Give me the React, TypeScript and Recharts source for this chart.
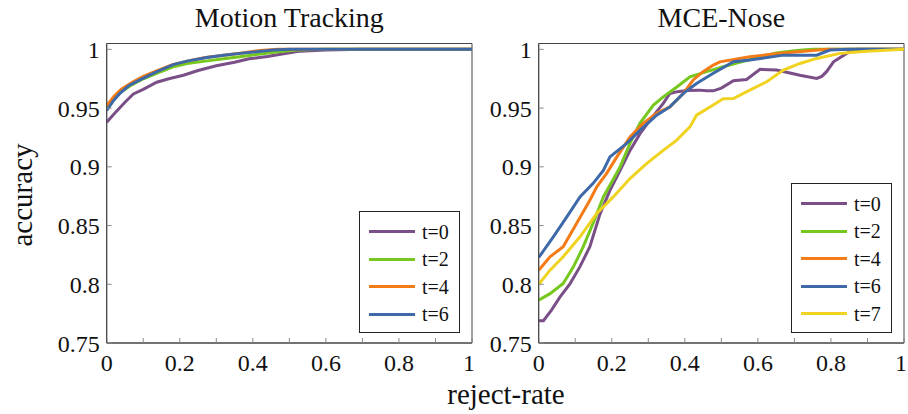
import { LineChart, Line, XAxis, YAxis, ReferenceArea } from 'recharts'

// x ticks every 0.1, labels only every 0.2
const xTicks = [0, 0.1, 0.2, 0.3, 0.4, 0.5, 0.6, 0.7, 0.8, 0.9, 1]
const xLabels = ['0', '', '0.2', '', '0.4', '', '0.6', '', '0.8', '', '1']
const yTicks = [0.75, 0.8, 0.85, 0.9, 0.95, 1]
const yLabels = ['0.75', '0.8', '0.85', '0.9', '0.95', '1']

// Motion Tracking
const mtT0 = [[0, 0.938], [0.02, 0.945], [0.05, 0.955], [0.073, 0.962], [0.1, 0.966], [0.137, 0.972], [0.17, 0.975], [0.21, 0.978], [0.25, 0.982], [0.3, 0.986], [0.35, 0.989], [0.39, 0.992], [0.44, 0.994], [0.48, 0.996], [0.53, 0.9985], [0.6, 0.9995], [0.7, 1], [1, 1]]
const mtT2 = [[0, 0.95], [0.02, 0.958], [0.04, 0.964], [0.07, 0.97], [0.1, 0.975], [0.14, 0.98], [0.18, 0.985], [0.22, 0.988], [0.27, 0.99], [0.32, 0.992], [0.37, 0.994], [0.42, 0.996], [0.47, 0.998], [0.52, 0.9995], [0.6, 1], [1, 1]]
const mtT4 = [[0, 0.952], [0.02, 0.96], [0.04, 0.966], [0.07, 0.972], [0.1, 0.977], [0.14, 0.982], [0.18, 0.987], [0.22, 0.99], [0.27, 0.993], [0.32, 0.995], [0.37, 0.997], [0.42, 0.999], [0.47, 1], [1, 1]]
const mtT6 = [[0, 0.948], [0.02, 0.957], [0.036, 0.9625], [0.06, 0.969], [0.091, 0.974], [0.13, 0.98], [0.182, 0.987], [0.22, 0.99], [0.274, 0.993], [0.32, 0.995], [0.365, 0.9966], [0.41, 0.998], [0.456, 0.9994], [0.5, 1], [1, 1]]

// MCE-Nose
const mnT0 = [[0, 0.769], [0.013, 0.769], [0.035, 0.778], [0.058, 0.789], [0.085, 0.8], [0.113, 0.815], [0.14, 0.832], [0.168, 0.86], [0.195, 0.88], [0.223, 0.897], [0.25, 0.914], [0.277, 0.928], [0.305, 0.94], [0.341, 0.954], [0.359, 0.9625], [0.38, 0.964], [0.405, 0.965], [0.44, 0.9653], [0.46, 0.9647], [0.478, 0.9647], [0.5, 0.967], [0.533, 0.9733], [0.569, 0.9744], [0.606, 0.983], [0.651, 0.9824], [0.715, 0.978], [0.761, 0.9753], [0.775, 0.977], [0.788, 0.981], [0.807, 0.9894], [0.843, 0.9966], [0.87, 1], [1, 1]]
const mnT2 = [[0, 0.7865], [0.031, 0.792], [0.067, 0.8007], [0.095, 0.8148], [0.122, 0.832], [0.149, 0.852], [0.177, 0.8744], [0.2, 0.887], [0.223, 0.9], [0.25, 0.92], [0.277, 0.937], [0.314, 0.9526], [0.341, 0.9596], [0.378, 0.968], [0.414, 0.9767], [0.46, 0.981], [0.505, 0.9852], [0.55, 0.989], [0.6, 0.993], [0.65, 0.997], [0.706, 0.999], [0.75, 1], [1, 1]]
const mnT4 = [[0, 0.812], [0.031, 0.8234], [0.067, 0.832], [0.104, 0.852], [0.14, 0.8716], [0.159, 0.883], [0.186, 0.8944], [0.214, 0.9085], [0.25, 0.9255], [0.286, 0.937], [0.323, 0.9455], [0.359, 0.951], [0.396, 0.9625], [0.423, 0.974], [0.45, 0.981], [0.478, 0.9866], [0.496, 0.9894], [0.578, 0.9937], [0.67, 0.997], [0.79, 1], [1, 1]]
const mnT6 = [[0, 0.8228], [0.04, 0.8404], [0.077, 0.8574], [0.113, 0.8744], [0.149, 0.8859], [0.177, 0.897], [0.195, 0.9085], [0.241, 0.92], [0.277, 0.931], [0.323, 0.944], [0.359, 0.951], [0.396, 0.9625], [0.432, 0.971], [0.478, 0.9796], [0.533, 0.9894], [0.578, 0.991], [0.67, 0.9951], [0.761, 0.9951], [0.797, 0.9994], [0.85, 1], [1, 1]]
const mnT7 = [[0, 0.8], [0.031, 0.812], [0.067, 0.8234], [0.113, 0.8404], [0.159, 0.8603], [0.204, 0.8744], [0.25, 0.89], [0.296, 0.903], [0.341, 0.914], [0.378, 0.9227], [0.414, 0.934], [0.432, 0.944], [0.469, 0.951], [0.505, 0.958], [0.533, 0.9582], [0.578, 0.9653], [0.624, 0.9724], [0.67, 0.9824], [0.715, 0.988], [0.761, 0.9923], [0.825, 0.9966], [0.898, 0.9985], [1, 1]]

const COLORS: Record<string, string> = {
  't=0': '#7a4f88',
  't=2': '#77c81e',
  't=4': '#f47b16',
  't=6': '#3e69a8',
  't=7': '#f0d320',
}

const FONT = '"Liberation Serif", serif'
const toPts = (arr: number[][]) => arr.map(([x, y]) => ({ x, y }))

type Series = { name: string; data: number[][] }

// bottom tick label; the last one is nudged so it stays inside the page
const XTick = (props: any) => {
  const { x, y, payload, index } = props
  const label = xLabels[xTicks.indexOf(payload.value)] ?? ''
  const dx = index === xTicks.length - 1 ? -3 : 0
  return (
    <text x={x + dx} y={y} dy="0.71em" textAnchor="middle" fill="#111" fontSize={24} style={{ fontFamily: FONT }}>
      {label}
    </text>
  )
}

const YTick = (props: any) => {
  const { x, y, payload } = props
  return (
    <text x={x} y={y} dy="0.355em" textAnchor="end" fill="#111" fontSize={24} style={{ fontFamily: FONT }}>
      {yLabels[yTicks.indexOf(payload.value)] ?? ''}
    </text>
  )
}

const Panel = ({ series, width, marginLeft, yAxisWidth, marginRight }: { series: Series[]; width: number; marginLeft: number; yAxisWidth: number; marginRight: number }) => (
  <LineChart width={width} height={414} margin={{ top: 43.5, right: marginRight, bottom: 31, left: marginLeft }}>
    <XAxis
      type="number"
      dataKey="x"
      domain={[0, 1]}
      ticks={xTicks}
      interval={0}
      allowDataOverflow
      height={40}
      tickSize={-5}
      tickMargin={16}
      tickLine={{ stroke: '#888' }}
      axisLine={{ stroke: '#444' }}
      tick={XTick}
    />
    <YAxis
      yAxisId="l"
      type="number"
      domain={[0.75, 1.005]}
      ticks={yTicks}
      interval={0}
      allowDataOverflow
      width={yAxisWidth}
      tickSize={-5}
      tickMargin={12}
      tickLine={{ stroke: '#888' }}
      axisLine={{ stroke: '#444' }}
      tick={YTick}
    />
    <YAxis
      yAxisId="r"
      orientation="right"
      type="number"
      domain={[0.75, 1.005]}
      ticks={yTicks}
      interval={0}
      width={0}
      tickSize={-5}
      tickLine={{ stroke: '#888' }}
      axisLine={{ stroke: '#444' }}
      tick={() => <g />}
    />
    <ReferenceArea yAxisId="l" x1={0} x2={1} y1={0.75} y2={1.005} fill="none" stroke="#444" strokeWidth={1} />
    {series.map((s) => (
      <Line
        key={s.name}
        yAxisId="l"
        data={toPts(s.data)}
        dataKey="y"
        name={s.name}
        type="linear"
        stroke={COLORS[s.name]}
        strokeWidth={3}
        dot={false}
        activeDot={false}
        isAnimationActive={false}
      />
    ))}
  </LineChart>
)

const LegendBox = ({ names, left, top }: { names: string[]; left: number; top: number }) => (
  <div
    style={{
      position: 'absolute',
      left,
      top,
      width: 101,
      height: names.length * 27.5 + 12,
      border: '1px solid #222',
      background: '#fff',
      boxSizing: 'border-box',
    }}
  >
    {names.map((n, i) => (
      <div key={n} style={{ position: 'absolute', left: 9, top: 6 + i * 27.5, height: 27.5, display: 'flex', alignItems: 'center' }}>
        <div style={{ width: 46, height: 3, background: COLORS[n] }} />
        <span style={{ marginLeft: 7, fontSize: 20, fontFamily: FONT, color: '#111', lineHeight: '20px' }}>{n}</span>
      </div>
    ))}
  </div>
)

export default function App() {
  const motion: Series[] = [
    { name: 't=0', data: mtT0 },
    { name: 't=2', data: mtT2 },
    { name: 't=4', data: mtT4 },
    { name: 't=6', data: mtT6 },
  ]
  const nose: Series[] = [
    { name: 't=0', data: mnT0 },
    { name: 't=2', data: mnT2 },
    { name: 't=4', data: mnT4 },
    { name: 't=6', data: mnT6 },
    { name: 't=7', data: mnT7 },
  ]
  return (
    <div style={{ position: 'absolute', left: 0, top: 0, width: 908, height: 414, background: '#fff', fontFamily: FONT, overflow: 'hidden' }}>
      <div style={{ position: 'absolute', left: 0, top: 0 }}>
        <Panel series={motion} width={480} marginLeft={46.7} yAxisWidth={60} marginRight={8} />
      </div>
      <div style={{ position: 'absolute', left: 480, top: 0 }}>
        <Panel series={nose} width={428} marginLeft={18.7} yAxisWidth={40} marginRight={4} />
      </div>
      <div style={{ position: 'absolute', left: 106.7, width: 365.3, top: 2, textAlign: 'center', fontSize: 28, color: '#111' }}>Motion Tracking</div>
      <div style={{ position: 'absolute', left: 538.7, width: 365.3, top: 2, textAlign: 'center', fontSize: 28, color: '#111' }}>MCE-Nose</div>
      <div
        style={{
          position: 'absolute',
          left: 22,
          top: 195,
          transform: 'translate(-50%, -50%) rotate(-90deg)',
          fontSize: 29,
          color: '#111',
          whiteSpace: 'nowrap',
        }}
      >
        accuracy
      </div>
      <div style={{ position: 'absolute', left: 0, width: 1012, top: 378, textAlign: 'center', fontSize: 29, color: '#111' }}>reject-rate</div>
      <LegendBox names={['t=0', 't=2', 't=4', 't=6']} left={359} top={211} />
      <LegendBox names={['t=0', 't=2', 't=4', 't=6', 't=7']} left={791} top={183} />
    </div>
  )
}
